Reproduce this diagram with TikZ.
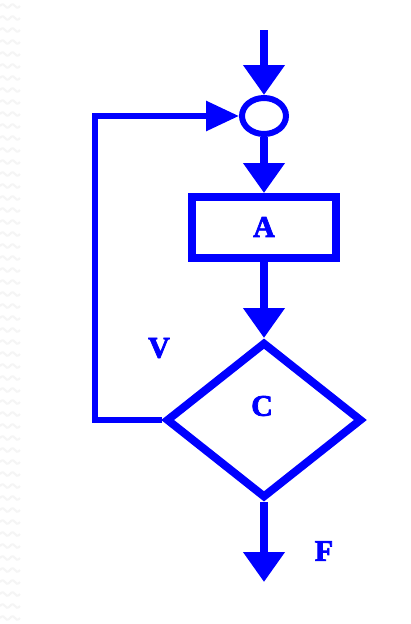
\documentclass[tikz,border=0pt]{standalone}
\usepackage{fontspec}
\setmainfont{Liberation Serif}
\newfontfamily\heavyfont[FakeBold=2.5]{Liberation Serif Bold}
\usetikzlibrary{shapes.geometric,arrows.meta}
\definecolor{fblue}{RGB}{0,0,255}
\begin{document}
\begin{tikzpicture}[x=1pt,y=-1pt,
  flow/.style={draw=fblue,line width=8pt},
  loopline/.style={draw=fblue,line width=6pt},
  lbl/.style={text=fblue,font=\heavyfont\fontsize{30}{30}\selectfont,inner sep=0pt},
  tipbig/.style={-{Triangle[length=30pt,width=40pt,fill=fblue]}},
  tipside/.style={-{Triangle[length=33pt,width=29pt,fill=fblue]}},
  ]
\useasboundingbox[fill=white] (0,0) rectangle (411,624);
% faint pattern on the left edge
\foreach \k in {0,...,51}{
  \draw[black!4,line width=2pt] (0,{6+12*\k}) .. controls (5,{0+12*\k}) and (5,{12+12*\k}) .. (10,{6+12*\k}) .. controls (15,{0+12*\k}) and (15,{12+12*\k}) .. (20,{6+12*\k});
}
% nodes
\node[ellipse,draw=fblue,line width=6pt,minimum width=44pt,minimum height=36pt,inner sep=0pt] (merge) at (264,116) {};
\node[rectangle,draw=fblue,line width=8pt,minimum width=144pt,minimum height=61pt,inner sep=0pt] (act) at (264,227.5) {};
\node[lbl] (atext) at (264,227) {A};
\node[diamond,draw=fblue,line width=8pt,minimum width=196pt,minimum height=156pt,inner sep=0pt] (cond) at (264,420) {};
\node[lbl] (ctext) at (262,406) {C};
\node[lbl] (vtext) at (159,348) {V};
\node[lbl] (ftext) at (324,551) {F};
\coordinate (start) at (264,30);
\coordinate (finish) at (264,582);
\coordinate (corner) at (95,420);
% connectors
\draw[flow,tipbig] (start) -- (merge.north);
\draw[flow,tipbig] (merge.south) -- (act.north);
\draw[flow,tipbig] (act.south) -- (cond.north);
\draw[flow,tipbig] (cond.south) -- (finish);
\draw[loopline,tipside] (cond.west) -- (corner) |- (merge.west);
\end{tikzpicture}
\end{document}
